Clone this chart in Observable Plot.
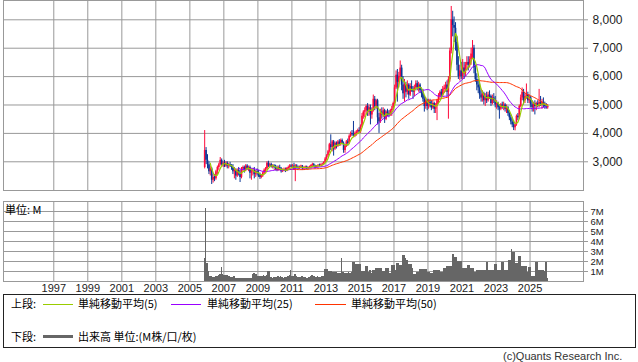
<!DOCTYPE html>
<html><head><meta charset="utf-8">
<script src="https://cdn.jsdelivr.net/npm/d3@7"></script>
<script src="https://cdn.jsdelivr.net/npm/@observablehq/plot@0.6"></script>
<style>
body{margin:0;background:#fff;}
#wrap{position:relative;width:638px;height:362px;overflow:hidden;background:#fff;font-family:"Liberation Sans",Arial,sans-serif;color:#000;}
#top{position:absolute;left:0;top:0;}
#vol{position:absolute;left:0;top:200px;}
.t{position:absolute;white-space:nowrap;font-size:11px;line-height:13px;}
.j{font-family:"Noto Sans CJK JP",sans-serif;}
.ln{position:absolute;}
#legend{position:absolute;left:3px;top:294px;width:633px;height:54px;border:1px solid #222;box-sizing:border-box;}
</style></head>
<body><div id="wrap">
<div id="top"></div>
<div id="vol"></div>
<div class="t j" style="left:5px;top:203px;">単位: M</div>
<div id="legend"></div>
<div class="t j" style="left:11px;top:297px;">上段:</div>
<div class="ln" style="left:43px;top:304px;width:30px;height:1px;background:#99cc00;"></div>
<div class="t j" style="left:78px;top:297px;">単純移動平均(5)</div>
<div class="ln" style="left:171px;top:304px;width:30px;height:1px;background:#9900ff;"></div>
<div class="t j" style="left:207px;top:297px;">単純移動平均(25)</div>
<div class="ln" style="left:315px;top:304px;width:31px;height:1px;background:#ff3300;"></div>
<div class="t j" style="left:351px;top:297px;">単純移動平均(50)</div>
<div class="t j" style="left:11px;top:330px;">下段:</div>
<div class="ln" style="left:43px;top:335px;width:30px;height:3px;background:#666;"></div>
<div class="t j" style="left:78px;top:330px;">出来高 単位:(M株/口/枚)</div>
<div class="t" style="left:503px;top:350px;color:#333;">(c)Quants Research Inc.</div>
</div>
<script>
// Monthly candles, Nov 2005 – Jan 2026
const firstYear = 2005, firstMonth = 10; // November (0-based)
const open = [
 2800,3400,
 3050,2900,2650,2750,2350,2450,2400,2650,2800,2900,3050,2900,
 2950,2850,2950,2850,2900,2850,2800,2650,2700,2500,2700,2600,
 2450,2750,2800,2700,2850,2750,2800,2600,2650,2700,2550,2650,
 2600,2550,2450,2500,2600,2700,2750,2950,2850,2900,2820,2850,
 2800,2750,2700,2800,2750,2650,2700,2720,2680,2760,2800,2850,
 2820,2850,2750,2850,2800,2780,2820,2850,2760,2780,2820,2760,
 2800,2820,2870,2900,2850,2800,2850,2880,2870,2900,2920,2980,
 3100,3200,3350,3600,3500,3700,3450,3650,3550,3700,3600,3750,
 3650,3400,3550,3700,3650,3900,4000,3950,3900,4000,4050,4100,
 4050,4250,4600,4750,4800,4950,4750,4900,4650,4800,5200,4950,
 5150,4550,4400,4750,4650,4800,4500,4750,4700,4650,4800,4850,
 5050,5600,6050,5800,6000,6300,5700,5400,5700,5450,5700,5350,
 5650,5550,5450,5600,5750,5600,5700,5500,5400,5200,4950,5150,
 4950,5100,5000,4900,5050,4850,4950,5150,5300,5450,5350,5550,
 5600,5700,5450,5900,6900,8000,7800,7700,7200,6400,6000,6200,
 6000,6300,6100,6400,6500,6400,6600,6800,7000,6300,5900,5700,
 5600,5350,5250,5400,5150,5300,5150,5350,5300,5050,5250,5150,
 5000,5050,4900,4850,5000,4950,5000,4850,4900,4700,4550,4400,
 4300,4200,4300,4600,4550,4950,5250,5450,5150,5300,5350,5150,
 5250,5000,4900,5050,4950,5050,4950,5100,5000,5100,5000,4950,
 4900];
const high = [
 4100,3500,
 3250,3000,2850,2800,2550,2550,2700,2850,2950,3150,3100,3000,
 3050,3000,3000,2950,2980,2900,2900,2800,2750,2750,2800,2700,
 2800,2850,2850,2900,2900,2850,2850,2750,2750,2800,2700,2750,
 2700,2600,2550,2650,2750,2800,3000,3020,2950,2950,2900,2900,
 2880,2850,2850,2880,2800,2750,2780,2780,2800,2850,2900,2900,
 2900,2950,2900,2900,2850,2850,2880,2870,2820,2850,2850,2820,
 2850,2900,2950,2940,2880,2870,2900,2920,2930,2950,3000,3150,
 3250,3400,3650,3950,3750,3750,3700,3700,3750,3780,3800,3800,
 3700,3600,3750,3800,3950,4050,4100,4420,4050,4100,4150,4200,
 4300,4700,4800,4900,5000,5050,5000,5000,4900,5350,5300,5200,
 5200,4700,4850,4900,4900,4850,4800,4850,4800,4850,4950,5100,
 5700,6200,6250,6150,6550,6400,6000,5900,5800,5850,5750,5750,
 5850,5650,5700,5850,5850,5800,5750,5600,5550,5300,5250,5200,
 5200,5200,5150,5150,5100,5050,5200,5400,5500,5550,5650,5700,
 5800,5850,6000,7000,8470,8300,8100,7900,7400,6700,6400,6500,
 6600,6500,6500,6700,6700,6700,7000,7270,7100,6400,6100,5900,
 5750,5500,5500,5450,5400,5450,5450,5500,5350,5350,5400,5300,
 5150,5100,5000,5050,5100,5100,5050,5000,4950,4800,4650,4500,
 4450,4350,4650,4700,5000,5350,5600,5550,5400,5740,5450,5350,
 5300,5150,5100,5150,5100,5150,5550,5300,5200,5250,5100,5050,
 5000];
const low = [
 2750,2900,
 2750,2550,2500,2200,2250,2300,2350,2550,2700,2850,2850,2800,
 2800,2800,2750,2750,2800,2700,2550,2400,2350,2450,2500,2270,
 2400,2650,2600,2650,2700,2650,2400,2350,2500,2400,2450,2500,
 2450,2380,2400,2450,2550,2600,2700,2800,2800,2780,2750,2750,
 2680,2650,2680,2700,2600,2620,2650,2620,2650,2700,2750,2780,
 2750,2700,2300,2750,2720,2730,2750,2700,2700,2740,2720,2720,
 2750,2780,2800,2820,2750,2780,2800,2820,2830,2850,2880,2950,
 3050,3150,3300,3400,3350,3200,3400,3450,3500,3550,3550,3600,
 3300,3300,3500,3550,3600,3850,3900,3850,3850,3900,3950,4000,
 4000,4200,4500,4550,4650,4600,4600,4300,4500,4750,4800,4850,
 4300,4000,4350,4500,4550,4350,4450,4600,4550,4600,4600,4800,
 5000,5550,5100,5600,5900,5500,5200,5100,5250,5350,5200,5300,
 5450,5200,5300,5500,5500,5450,5400,5250,5100,4750,4850,4800,
 4850,4900,4800,4850,4700,4700,4450,5050,5200,5250,5300,5400,
 5450,5300,4500,5800,6800,7400,7200,6900,6200,5900,5850,5900,
 5900,5900,6000,6200,6200,6300,6400,6600,6100,5800,5500,5400,
 5200,5100,5100,5000,4950,5050,5100,5200,4950,5000,5050,4900,
 4850,4800,4500,4800,4850,4800,4750,4700,4600,4450,4300,4200,
 4100,4090,4250,4450,4500,4900,5150,5000,5050,5200,5050,5050,
 4900,4750,4750,4650,4800,4900,4900,4950,4850,4900,4850,4850,
 4850];
const close = [
 3400,3050,
 2900,2650,2750,2350,2450,2400,2650,2800,2900,3050,2900,2950,
 2850,2950,2850,2900,2850,2800,2650,2700,2500,2700,2600,2450,
 2750,2800,2700,2850,2750,2800,2600,2650,2700,2550,2650,2600,
 2550,2450,2500,2600,2700,2750,2950,2850,2900,2820,2850,2800,
 2750,2700,2800,2750,2650,2700,2720,2680,2760,2800,2850,2820,
 2850,2750,2850,2800,2780,2820,2850,2760,2780,2820,2760,2800,
 2820,2870,2900,2850,2800,2850,2880,2870,2900,2920,2980,3100,
 3200,3350,3600,3500,3700,3450,3650,3550,3700,3600,3750,3650,
 3400,3550,3700,3650,3900,4000,3950,3900,4000,4050,4100,4050,
 4250,4600,4750,4800,4950,4750,4900,4650,4800,5200,4950,5150,
 4550,4400,4750,4650,4800,4500,4750,4700,4650,4800,4850,5050,
 5600,6050,5800,6000,6300,5700,5400,5700,5450,5700,5350,5650,
 5550,5450,5600,5750,5600,5700,5500,5400,5200,4950,5150,4950,
 5100,5000,4900,5050,4850,4950,5150,5300,5450,5350,5550,5600,
 5700,5450,5900,6900,8000,7800,7700,7200,6400,6000,6200,6000,
 6300,6100,6400,6500,6400,6600,6800,7000,6300,5900,5700,5600,
 5350,5250,5400,5150,5300,5150,5350,5300,5050,5250,5150,5000,
 5050,4900,4850,5000,4950,5000,4850,4900,4700,4550,4400,4300,
 4200,4300,4600,4550,4950,5250,5450,5150,5300,5350,5150,5250,
 5000,4900,5050,4950,5050,4950,5100,5000,5100,5000,4950,4900,
 4950];
// volume, millions of shares
const volume = [
 2.3,7.3,
 1.8,1.0,0.5,0.5,0.4,0.4,0.5,0.5,0.6,0.7,1.4,0.7,
 0.6,0.6,0.6,0.5,0.5,0.4,0.4,0.5,0.3,0.3,0.3,0.3,
 0.3,0.3,0.3,0.3,0.3,0.3,0.35,0.3,0.7,0.8,0.7,0.7,
 0.5,0.5,0.5,0.5,0.6,0.5,0.6,1.0,1.0,0.4,0.3,0.4,
 0.4,0.4,0.5,0.4,0.5,0.4,0.3,0.4,0.4,0.5,0.6,1.1,
 0.5,0.5,0.7,0.5,0.4,0.4,0.4,0.5,0.4,0.4,0.3,0.3,
 0.4,0.5,0.6,0.5,0.5,0.4,0.5,0.4,0.4,0.5,0.5,1.2,
 1.2,1.2,1.0,1.0,1.0,0.9,0.9,0.9,0.8,0.8,0.8,2.3,
 0.9,0.8,0.8,0.8,0.9,0.8,0.9,1.9,1.9,1.7,1.7,1.7,
 1.7,1.0,1.0,1.0,1.5,1.5,0.9,1.1,0.8,1.1,1.1,1.3,
 1.3,1.3,1.3,1.3,1.0,1.0,1.3,1.3,1.3,0.8,1.6,1.6,
 1.6,1.1,1.8,1.8,1.6,1.6,2.6,2.6,2.3,2.1,1.7,1.7,
 1.7,1.3,0.7,0.7,0.9,0.9,1.2,1.2,1.2,1.2,1.2,1.2,
 0.9,0.9,0.8,0.8,1.1,1.1,1.1,1.1,1.1,0.9,0.9,1.3,
 1.3,1.5,1.5,1.5,1.5,2.7,2.7,2.4,2.4,2.0,2.0,2.0,
 1.3,1.3,1.3,1.3,1.6,1.6,1.3,1.3,1.3,0.9,1.1,1.1,
 1.1,1.1,1.1,1.1,1.1,1.9,1.9,1.1,1.1,1.1,1.1,1.7,
 1.7,1.1,1.1,1.1,1.9,1.9,1.1,1.1,1.1,2.1,2.1,3.2,
 2.9,2.9,1.8,1.8,2.5,2.5,1.5,1.5,1.5,1.5,0.9,1.4,
 1.4,0.5,0.5,0.5,1.9,1.9,1.1,1.1,1.1,1.1,1.0,1.9,
 0.3];
const priceTicks = [3000, 4000, 5000, 6000, 7000, 8000];
const volTicks = [1, 2, 3, 4, 5, 6, 7];
const yearTicks = [1997,1999,2001,2003,2005,2007,2009,2011,2013,2015,2017,2019,2021,2023,2025];

const RED = "#ff0a3c", BLUE = "#0a3696";
const data = close.map((c, i) => ({
  date: new Date(Date.UTC(firstYear, firstMonth + i, 15)),
  start: new Date(Date.UTC(firstYear, firstMonth + i, 1)),
  end: new Date(Date.UTC(firstYear, firstMonth + i + 1, 1)),
  o: open[i], h: high[i], l: low[i], c, v: volume[i]
}));
const gridDates = yearTicks.map(y => new Date(Date.UTC(y, 0, 1)));
const xDomain = [new Date(Date.UTC(1994, 0, 17)), new Date(Date.UTC(2028, 1, 23))];
const col = d => d.c >= d.o ? RED : BLUE;
const font = {fontFamily: "'Liberation Sans', Arial, sans-serif", fontSize: "11px", background: "transparent", overflow: "visible"};

const topChart = Plot.plot({
  width: 638, height: 191, marginLeft: 3, marginRight: 55, marginTop: 0, marginBottom: 1,
  style: font,
  x: {type: "utc", domain: xDomain, axis: null, label: null},
  y: {domain: [1989, 8680], axis: null, label: null},
  marks: [
    Plot.ruleX(gridDates, {stroke: "#999", strokeOpacity: 1}),
    Plot.ruleY(priceTicks, {stroke: "#999", strokeOpacity: 1}),
    Plot.ruleX(data, {x: "date", y1: "l", y2: "h", stroke: col, strokeWidth: 1}),
    Plot.ruleX(data, {x: "date", y1: "o", y2: "c", stroke: col, strokeWidth: 1.6}),
    Plot.lineY(data, Plot.windowY({k: 50, anchor: "end", strict: true}, {x: "date", y: "c", stroke: "#ff3300", strokeWidth: 1})),
    Plot.lineY(data, Plot.windowY({k: 25, anchor: "end", strict: true}, {x: "date", y: "c", stroke: "#9900ff", strokeWidth: 1})),
    Plot.lineY(data, Plot.windowY({k: 5, anchor: "end", strict: true}, {x: "date", y: "c", stroke: "#99cc00", strokeWidth: 1.2})),
    Plot.frame({stroke: "#999", strokeOpacity: 1}),
    Plot.axisY(priceTicks, {anchor: "right", label: null, tickSize: 4, tickPadding: 5, stroke: "#999", fill: "#222", fontSize: 12, tickFormat: d3.format(",")})
  ]
});
document.getElementById("top").append(topChart);

const volChart = Plot.plot({
  width: 638, height: 95, marginLeft: 3, marginRight: 55, marginTop: 1, marginBottom: 14,
  style: font,
  x: {type: "utc", domain: xDomain, axis: null, label: null},
  y: {domain: [0, 8], axis: null, label: null},
  marks: [
    Plot.ruleX(gridDates, {stroke: "#999", strokeOpacity: 1}),
    Plot.ruleY(volTicks, {stroke: "#999", strokeOpacity: 1}),
    Plot.rectY(data, {x1: "start", x2: "end", y: "v", fill: "#666", shapeRendering: "crispEdges"}),
    Plot.frame({stroke: "#999", strokeOpacity: 1}),
    Plot.axisY(volTicks, {anchor: "right", label: null, tickSize: 4, tickPadding: 3, stroke: "#999", fill: "#222", fontSize: 9.5, tickFormat: d => d + "M"}),
    Plot.axisX(gridDates, {anchor: "bottom", label: null, tickSize: 0, tickPadding: 3, fill: "#222", fontSize: 11, tickFormat: d => String(d.getUTCFullYear())})
  ]
});
document.getElementById("vol").append(volChart);
</script>
</body></html>
